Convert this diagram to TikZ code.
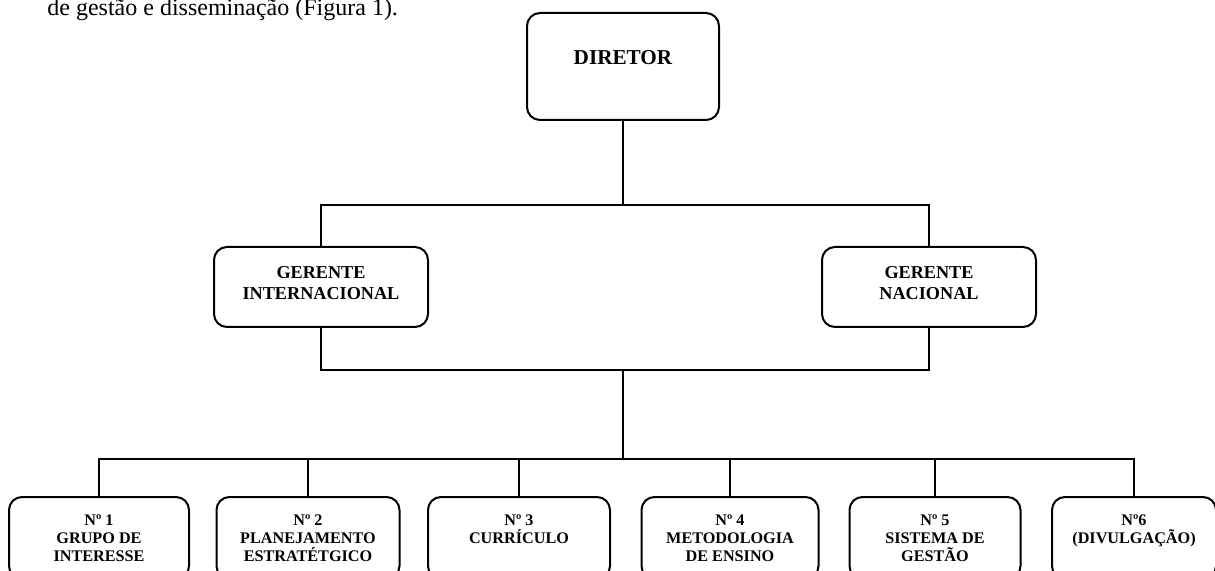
\documentclass[tikz,border=0pt]{standalone}
\usepackage{fontspec}
\setmainfont{Liberation Serif}
\usetikzlibrary{positioning}

\begin{document}
\begin{tikzpicture}[x=0.5pt,y=-0.5pt,
    caixa/.style={draw, line width=1pt, rounded corners=6.5pt, inner sep=0pt},
    caixanum/.style={caixa, minimum height=41pt},
    rotulo/.style={font=\bfseries\fontsize{10.6}{12}\selectfont, align=center, inner sep=0pt},
    rotuloger/.style={rotulo, font=\bfseries\fontsize{9.1}{10.5}\selectfont, anchor=north},
    rotulonum/.style={rotulo, font=\bfseries\fontsize{8.1}{9}\selectfont, anchor=north},
    liga/.style={line width=1pt}]

    \useasboundingbox (0,0) rectangle (1215,571);
    \clip (0,0) rectangle (1215,571);

    % texto do paragrafo acima da figura
    \node[anchor=base west, inner sep=0pt, font=\fontsize{12}{14}\selectfont] (texto) at (47,16)
        {de gestão e disseminação (Figura 1).};

    % diretor
    \node[caixa, minimum width=96pt, minimum height=53.5pt] (diretor) at (623,66.5) {};
    \node[rotulo] (tdiretor) at (623,58) {DIRETOR};

    % gerentes
    \node[caixa, minimum width=107pt, minimum height=40pt] (gint) at (321,287) {};
    \node[rotuloger] (tgint) at (321,266) {GERENTE\\INTERNACIONAL};
    \node[caixa, minimum width=107pt, minimum height=40pt] (gnac) at (929,287) {};
    \node[rotuloger] (tgnac) at (929,266) {GERENTE\\NACIONAL};

    % nucleos
    \node[caixanum, minimum width=90pt]   (n1) at (99,538)  {};
    \node[caixanum, minimum width=91.5pt] (n2) at (308,538) {};
    \node[caixanum, minimum width=91pt]   (n3) at (519,538) {};
    \node[caixanum, minimum width=88.5pt] (n4) at (730,538) {};
    \node[caixanum, minimum width=85.5pt] (n5) at (935,538) {};
    \node[caixanum, minimum width=82pt]   (n6) at (1134,538) {};

    \node[rotulonum] (tn1) at (99,514)  {Nº 1\\GRUPO DE\\INTERESSE};
    \node[rotulonum] (tn2) at (308,514) {Nº 2\\PLANEJAMENTO\\ESTRATÉTGICO};
    \node[rotulonum] (tn3) at (519,514) {Nº 3\\CURRÍCULO};
    \node[rotulonum] (tn4) at (730,514) {Nº 4\\METODOLOGIA\\DE ENSINO};
    \node[rotulonum] (tn5) at (935,514) {Nº 5\\SISTEMA DE\\GESTÃO};
    \node[rotulonum] (tn6) at (1134,514) {Nº6\\(DIVULGAÇÃO)};

    % ligacoes
    \coordinate (ja) at (623,205);
    \coordinate (jb) at (623,370);
    \coordinate (jc) at (623,459);

    \draw[liga] (diretor.south) -- (ja);
    \draw[liga] (gint.north) |- (ja) -| (gnac.north);
    \draw[liga] (gint.south) |- (jb) -| (gnac.south);
    \draw[liga] (jb) -- (jc);
    \draw[liga] (n1.north) |- (jc) -| (n6.north);
    \draw[liga] (n2.north) -- (n2.north |- jc);
    \draw[liga] (n3.north) -- (n3.north |- jc);
    \draw[liga] (n4.north) -- (n4.north |- jc);
    \draw[liga] (n5.north) -- (n5.north |- jc);
\end{tikzpicture}
\end{document}
